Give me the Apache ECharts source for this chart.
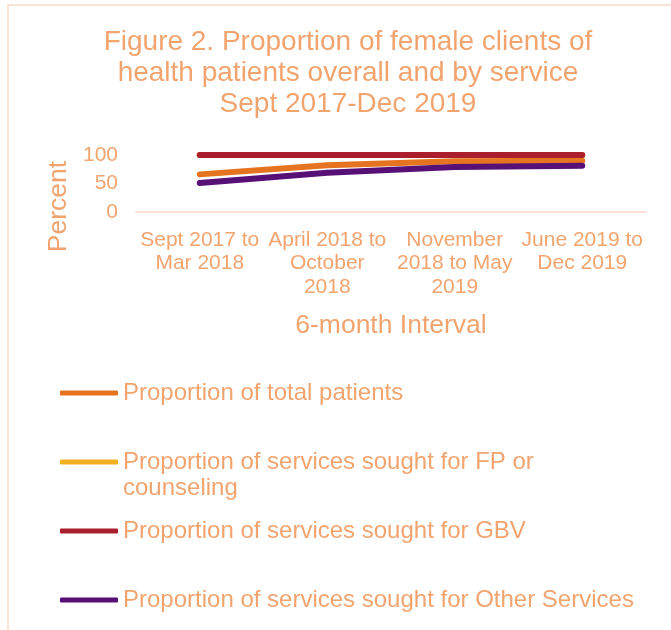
<!DOCTYPE html>
<html lang="en">
<head>
    <meta http-equiv="content-type" content="text/html; charset=utf-8" />
    <script type="text/javascript" src="https://cdn.jsdelivr.net/npm/echarts@6/dist/echarts.min.js"></script>
    <title>Figure 2</title>
    <style>
        html, body { margin: 0; padding: 0; background: #fff; }
        #chart { width: 671px; height: 630px; }
    </style>
</head>
<body>
<div id="chart"></div>
<script type="text/javascript">
    // 6-month intervals
    var categories = ['Sept 2017 to\nMar 2018', 'April 2018 to\nOctober\n2018', 'November\n2018 to May\n2019', 'June 2019 to\nDec 2019'];
    var seriesNames = [
        'Proportion of total patients',
        'Proportion of services sought for FP or counseling',
        'Proportion of services sought for GBV',
        'Proportion of services sought for Other Services'
    ];
    var totalPatients = [66, 82, 89, 90];
    var fpCounseling = [100, 100, 100, 100];
    var gbv = [100, 100, 100, 100];
    var otherServices = [51, 69, 79, 81];
    var yTicks = [0, 50, 100];

    var colors = ['#E5731F', '#F2B021', '#AA1E2D', '#561076'];
    var textColor = '#F2A46F';
    var fontFamily = '"Liberation Sans", Arial, sans-serif';

    var chart = echarts.init(document.getElementById('chart'));

    function mkSeries(i, data) {
        return {
            name: seriesNames[i],
            type: 'line',
            data: data,
            symbol: 'none',
            clip: false,
            color: colors[i],
            lineStyle: { width: 6, color: colors[i], cap: 'round', join: 'round' }
        };
    }

    // one legend per entry, Excel puts them at uneven heights
    var legendTops = [381, 450, 519, 588];
    var legends = [];
    for (var i = 0; i < seriesNames.length; i++) {
        legends.push({
            data: [seriesNames[i]],
            left: 60,
            top: legendTops[i],
            padding: 0,
            icon: 'roundRect',
            itemWidth: 58,
            itemHeight: 5,
            selectedMode: false,
            formatter: i === 1 ? function () { return 'Proportion of services sought for FP or'; } : '{name}',
            textStyle: { color: textColor, fontSize: 24, fontFamily: fontFamily }
        });
    }

    var option = {
        animation: false,
        title: {
            text: 'Figure 2. Proportion of female clients of\nhealth patients overall and by service\nSept 2017-Dec 2019',
            left: 343,
            textAlign: 'center',
            top: 22,
            textStyle: { color: textColor, fontSize: 28, fontWeight: 'normal', lineHeight: 31, fontFamily: fontFamily }
        },
        graphic: [
            {
                type: 'rect',
                silent: true,
                shape: { x: 8, y: 5, width: 720, height: 700 },
                style: { fill: 'none', stroke: '#FBE4D5', lineWidth: 2 }
            },
            {
                type: 'text',
                left: 123,
                top: 476,
                style: { text: 'counseling', fill: textColor, fontSize: 24, fontFamily: fontFamily }
            }
        ],
        legend: legends,
        grid: { left: 136, right: 25, top: 155, height: 57, containLabel: false },
        xAxis: {
            type: 'category',
            data: categories,
            boundaryGap: true,
            name: '6-month Interval',
            nameLocation: 'middle',
            nameGap: 100,
            nameTextStyle: { color: textColor, fontSize: 26.5, fontFamily: fontFamily },
            axisLine: { show: true, lineStyle: { color: '#FBE4D5', width: 2 } },
            axisTick: { show: false },
            axisLabel: { interval: 0, color: textColor, fontSize: 21, lineHeight: 23.5, margin: 16, fontFamily: fontFamily }
        },
        yAxis: {
            type: 'value',
            min: yTicks[0],
            max: yTicks[yTicks.length - 1],
            interval: 50,
            name: 'Percent',
            nameLocation: 'middle',
            nameRotate: 90,
            nameGap: 64,
            nameTextStyle: { color: textColor, fontSize: 26.5, fontFamily: fontFamily, padding: [0, 46, 0, 0] },
            axisLine: { show: false },
            axisTick: { show: false },
            splitLine: { show: false },
            axisLabel: { color: textColor, fontSize: 21, margin: 18, fontFamily: fontFamily }
        },
        series: [
            mkSeries(0, totalPatients),
            mkSeries(1, fpCounseling),
            mkSeries(2, gbv),
            mkSeries(3, otherServices)
        ]
    };
    chart.setOption(option);
</script>
</body>
</html>
